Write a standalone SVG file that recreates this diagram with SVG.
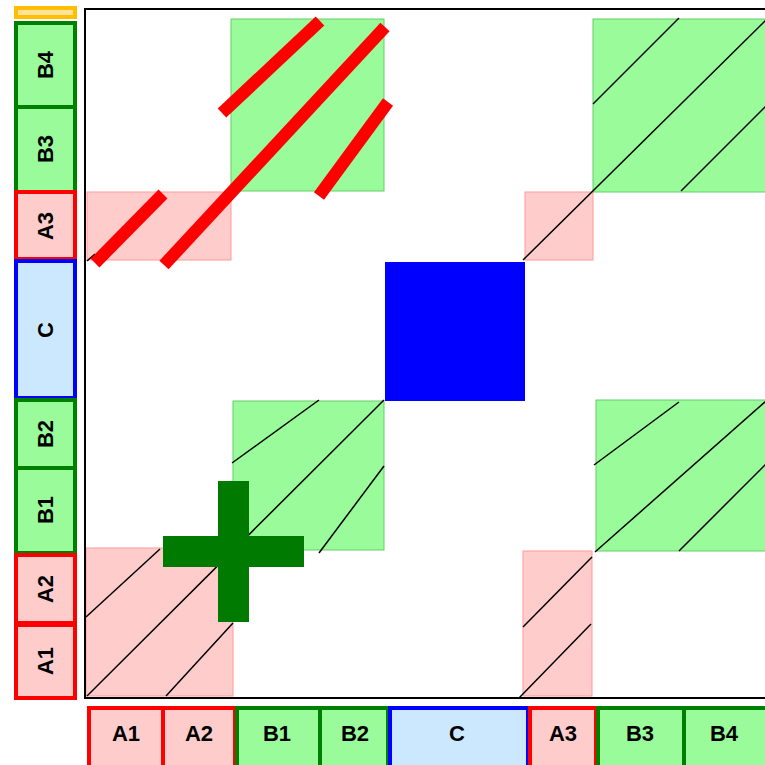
<svg xmlns="http://www.w3.org/2000/svg" width="765" height="765" viewBox="0 0 765 765">
<style>
.pa{fill:#ffcccc;stroke:#ff0000;stroke-width:4}
.ga{fill:#99fb99;stroke:#008000;stroke-width:4}
.ca{fill:#cce8ff;stroke:#0000ff;stroke-width:4}
.pc{fill:#ffcccc;stroke:#ff9999;stroke-width:1}
.gc{fill:#99fb99;stroke:#66cc66;stroke-width:1}
.lbl{font-family:"Liberation Sans",Arial,sans-serif;font-weight:bold;font-size:22px;fill:#000;text-anchor:middle;dominant-baseline:central}
.h{stroke:#000;stroke-width:1.5;fill:none}
.rl{stroke:#ff0000;stroke-width:12.5;fill:none}
</style>
<rect width="765" height="765" fill="#fff"/>
<g id="cells">
<rect class="pc" x="87" y="192" width="144" height="68"/>
<rect class="gc" x="231" y="19" width="153" height="172"/>
<rect class="gc" x="593" y="19" width="180" height="173"/>
<rect class="pc" x="525" y="192" width="68" height="68"/>
<rect class="gc" x="233" y="401" width="151" height="149"/>
<rect class="pc" x="86" y="548" width="147" height="148"/>
<rect class="gc" x="596" y="400" width="180" height="151"/>
<rect class="pc" x="523" y="551" width="69" height="145"/>
</g>
<g id="connectors">
<line class="h" x1="593" y1="104" x2="679" y2="18"/>
<line class="h" x1="523" y1="260" x2="766" y2="20"/>
<line class="h" x1="681" y1="191" x2="766" y2="106"/>
<line class="h" x1="232" y1="463" x2="319" y2="400"/>
<line class="h" x1="87" y1="696" x2="384" y2="400"/>
<line class="h" x1="319" y1="553" x2="384" y2="466"/>
<line class="h" x1="86" y1="617" x2="160" y2="549"/>
<line class="h" x1="166" y1="696" x2="233" y2="623"/>
<line class="h" x1="594" y1="465" x2="679" y2="402"/>
<line class="h" x1="766" y1="401" x2="595" y2="552"/>
<line class="h" x1="592" y1="557" x2="523" y2="627"/>
<line class="h" x1="679" y1="551" x2="766" y2="464"/>
<line class="h" x1="519" y1="698" x2="591" y2="624"/>
<line class="h" x1="87" y1="261" x2="95" y2="254"/>
<line class="rl" x1="222" y1="113" x2="320" y2="21"/>
<line class="rl" x1="164" y1="265" x2="385" y2="27"/>
<line class="rl" x1="319" y1="196" x2="388" y2="102"/>
<line class="rl" x1="95" y1="263" x2="163" y2="194"/>
</g>
<g id="cross">
<rect x="218" y="481" width="31" height="141" fill="#007a00"/>
<rect x="163" y="536" width="141" height="31" fill="#007a00"/>
</g>
<g id="blue">
<rect x="385" y="262" width="140" height="139" fill="#0000ff"/>
</g>
<g id="frame">
<rect x="85" y="9" width="700" height="689" fill="none" stroke="#000" stroke-width="2"/>
</g>
<g id="left-axis">
<rect x="16" y="8" width="59" height="9" fill="#ffe39a" stroke="#ffbf00" stroke-width="4"/>
<g id="l-B4"><rect class="ga" x="16" y="23" width="59" height="84"/><text class="lbl" transform="translate(45.5,65) rotate(-90)">B4</text></g>
<g id="l-B3"><rect class="ga" x="16" y="107" width="59" height="85"/><text class="lbl" transform="translate(45.5,149) rotate(-90)">B3</text></g>
<g id="l-A3"><rect class="pa" x="16" y="192" width="59" height="67"/><text class="lbl" transform="translate(45.5,226) rotate(-90)">A3</text></g>
<g id="l-C"><rect class="ca" x="16" y="261" width="59" height="137"/><text class="lbl" transform="translate(45.5,330) rotate(-90)">C</text></g>
<g id="l-B2"><rect class="ga" x="16" y="400" width="59" height="68"/><text class="lbl" transform="translate(45.5,434) rotate(-90)">B2</text></g>
<g id="l-B1"><rect class="ga" x="16" y="468" width="59" height="85"/><text class="lbl" transform="translate(45.5,510) rotate(-90)">B1</text></g>
<g id="l-A2"><rect class="pa" x="16" y="555" width="59" height="68"/><text class="lbl" transform="translate(45.5,589) rotate(-90)">A2</text></g>
<g id="l-A1"><rect class="pa" x="16" y="625" width="59" height="73"/><text class="lbl" transform="translate(45.5,661) rotate(-90)">A1</text></g>
</g>
<g id="bottom-axis">
<g id="b-A1"><rect class="pa" x="89" y="708" width="74" height="70"/><text class="lbl" x="126" y="733">A1</text></g>
<g id="b-A2"><rect class="pa" x="163" y="708" width="72" height="70"/><text class="lbl" x="199" y="733">A2</text></g>
<g id="b-B1"><rect class="ga" x="237" y="708" width="83" height="70"/><text class="lbl" x="277" y="733">B1</text></g>
<g id="b-B2"><rect class="ga" x="320" y="708" width="68" height="70"/><text class="lbl" x="355" y="733">B2</text></g>
<g id="b-C"><rect class="ca" x="390" y="708" width="138" height="70"/><text class="lbl" x="457" y="733">C</text></g>
<g id="b-A3"><rect class="pa" x="530" y="708" width="66" height="70"/><text class="lbl" x="563" y="733">A3</text></g>
<g id="b-B3"><rect class="ga" x="598" y="708" width="86" height="70"/><text class="lbl" x="640" y="733">B3</text></g>
<g id="b-B4"><rect class="ga" x="684" y="708" width="90" height="70"/><text class="lbl" x="724" y="733">B4</text></g>
</g>
</svg>
